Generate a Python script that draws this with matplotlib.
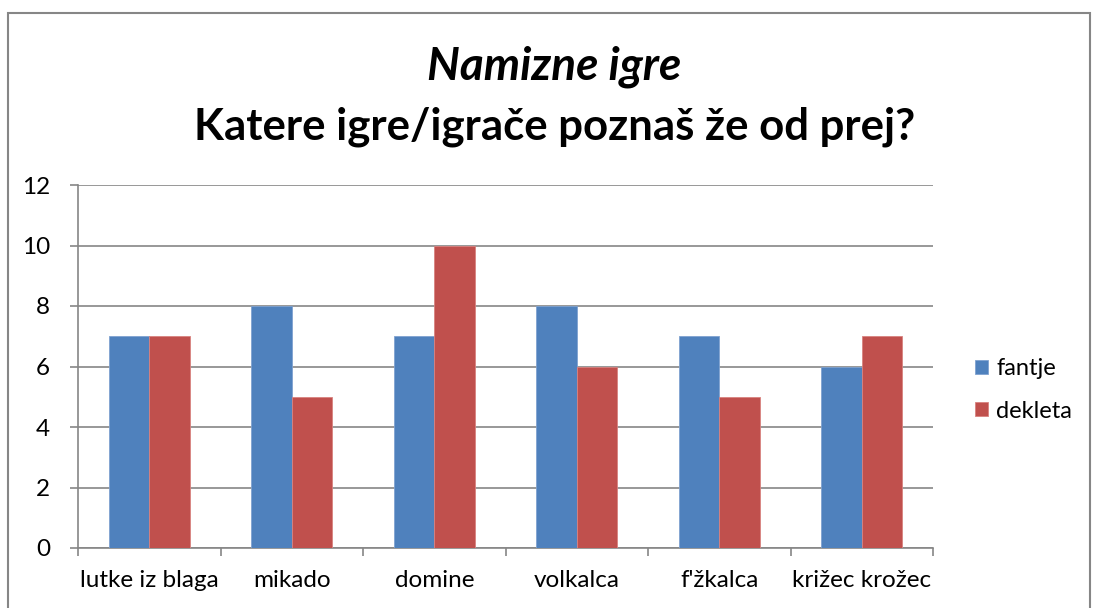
import matplotlib.pyplot as plt
import numpy as np
from matplotlib.patches import Rectangle

categories = ['lutke iz blaga', 'mikado', 'domine', 'volkalca', "f'žkalca", 'križec krožec']
fantje = [7, 8, 7, 8, 7, 6]
dekleta = [7, 5, 10, 6, 5, 7]

plt.rcParams['font.family'] = ['Lato', 'DejaVu Sans']

fig = plt.figure(figsize=(10.93, 6.08), dpi=100)
ax = fig.add_axes([78 / 1093, 1 - 548 / 608, 855 / 1093, 363 / 608])

x = np.arange(len(categories))
w = 1 / 3.5
ax.bar(x - w / 2, fantje, w, color='#4F81BD', edgecolor='#7FA2D0', linewidth=0.6, label='fantje', zorder=3)
ax.bar(x + w / 2, dekleta, w, color='#C0504D', edgecolor='#D9827F', linewidth=0.6, label='dekleta', zorder=3)

ax.set_xlim(-0.5, len(categories) - 0.5)
ax.set_ylim(0, 12)
ax.set_yticks(range(0, 13, 2))
ax.yaxis.grid(True, color='#868686', linewidth=1.2, zorder=0)
ax.set_xticks(x)
ax.set_xticklabels(categories)
ax.set_xticks(np.arange(-0.5, len(categories)), minor=True)
ax.tick_params(axis='x', which='major', length=0, pad=16, labelsize=17.5)
ax.tick_params(axis='x', which='minor', length=6, width=1.2, color='#868686')
ax.tick_params(axis='y', length=6, width=1.2, color='#868686', pad=14, labelsize=17.5)
for s in ['top', 'right']:
    ax.spines[s].set_visible(False)
for s in ['left', 'bottom']:
    ax.spines[s].set_color('#868686')
    ax.spines[s].set_linewidth(1.2)

fig.text(0.507, 1 - 67 / 608, 'Namizne igre', ha='center', va='center',
         fontsize=33, fontweight='bold', style='italic')
fig.text(0.507, 1 - 127 / 608, 'Katere igre/igrače poznaš že od prej?', ha='center', va='center',
         fontsize=31.5, fontweight='bold')

fig.legend(loc='center left', bbox_to_anchor=(975 / 1093, 1 - 390 / 608), frameon=False,
           borderpad=0, borderaxespad=0, fontsize=17, handlelength=0.55, handleheight=0.55,
           labelspacing=0.9, handletextpad=0.35)

fig.patches.append(Rectangle((8 / 1093, -0.01), 1082 / 1093, 1 - 13 / 608 + 0.01,
                             transform=fig.transFigure, fill=False, edgecolor='#868686', linewidth=1.5))

fig.savefig('out.png', dpi=100)
